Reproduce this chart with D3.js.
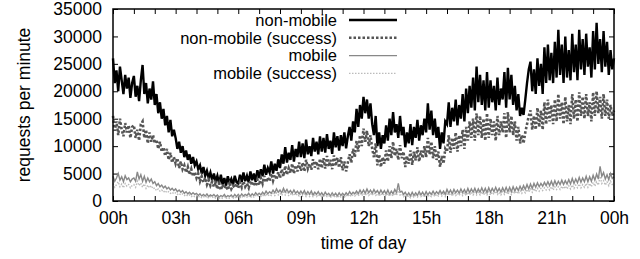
<!DOCTYPE html>
<html>
<head>
<meta charset="utf-8">
<script src="https://cdn.jsdelivr.net/npm/d3@7"></script>
<style>
  body { margin: 0; background: #fff; }
  svg { display: block; font-family: "Liberation Sans", Arial, sans-serif; }
  .axis path { display: none; }
  .axis line { stroke: #000; stroke-width: 1; }
  .axis text { font-size: 17.5px; fill: #000; font-family: "Liberation Sans", Arial, sans-serif; }
</style>
</head>
<body>
<div id="chart"></div>
<script>
// requests per minute, in thousands, one value every 5 minutes, 00:00 .. 24:00
const nonMobile = [
  26.0, 21.5, 23.8, 20.0, 24.5, 22.0, 19.5, 23.0, 20.5, 22.5, 18.8, 21.5,
  22.8, 19.0, 21.0, 18.2, 22.0, 24.8, 19.5, 21.5, 17.8, 20.5, 18.5, 21.8,
  17.5, 19.5, 16.0, 18.0, 15.0, 16.8, 13.8, 15.5, 12.5, 14.8, 11.8, 13.0,
  11.5, 9.5, 10.8, 8.8, 10.0, 8.0, 9.2, 7.5, 8.5, 6.8, 8.0, 6.5,
  7.2, 5.8, 6.5, 5.0, 6.2, 4.6, 5.5, 4.2, 5.2, 3.8, 5.0, 3.6,
  4.6, 3.2, 4.8, 3.0, 4.2, 2.8, 4.5, 3.3, 4.0, 2.9, 4.6, 3.4,
  3.2, 4.8, 3.5, 5.2, 3.6, 4.6, 3.4, 5.4, 3.8, 5.0, 3.5, 5.6,
  4.2, 5.8, 4.5, 6.6, 4.8, 6.0, 5.2, 7.2, 5.0, 6.8, 5.5, 7.6,
  6.0, 8.5, 6.8, 9.8, 7.0, 8.8, 7.5, 10.2, 7.2, 9.5, 8.0, 10.8,
  8.0, 10.5, 7.8, 11.2, 8.5, 10.0, 8.2, 11.5, 9.0, 10.8, 8.5, 11.8,
  9.0, 11.5, 8.8, 12.2, 9.5, 11.0, 8.6, 12.5, 9.8, 11.8, 9.2, 12.0,
  10.0, 12.5, 9.6, 11.8, 13.5, 11.0, 14.5, 12.5, 16.8, 13.5, 17.5, 15.0,
  19.0, 16.0, 18.5, 15.0, 17.8, 14.0, 12.0, 15.5, 10.0, 12.5, 9.5, 12.0,
  10.5, 13.8, 11.0, 15.0, 12.0, 16.2, 12.5, 14.0, 11.5, 15.5, 12.0, 13.5,
  9.8, 12.5, 10.5, 14.0, 10.2, 13.5, 11.5, 14.8, 11.0, 13.8, 12.0, 15.0,
  12.5, 17.8, 13.0, 16.5, 12.0, 15.0, 11.5, 13.5, 9.5, 12.5, 10.5, 14.5,
  14.0, 18.0, 13.5, 17.0, 14.5, 18.5, 13.8, 17.5, 15.0, 19.5, 14.5, 20.5,
  16.0, 21.0, 17.0, 22.5, 16.5, 24.5, 18.0, 23.0, 17.5, 22.0, 16.5, 23.5,
  17.0, 22.0, 18.0, 21.0, 16.5, 22.5, 17.5, 20.5, 18.5, 23.5, 17.0, 24.3,
  18.5, 23.0, 17.5, 21.0, 16.5, 19.5, 15.5, 17.0, 15.7, 18.5, 21.5, 24.0,
  25.4, 20.0, 24.0, 19.5, 26.0, 21.0, 25.0, 19.5, 28.0, 21.5, 28.5, 22.0,
  27.0, 21.5, 29.0, 22.5, 31.2, 23.0, 28.5, 21.5, 30.0, 22.5, 27.5, 22.0,
  30.5, 23.5, 28.5, 22.0, 31.2, 24.0, 29.5, 23.0, 30.5, 24.5, 28.0, 22.5,
  31.0, 24.0, 32.5, 25.0, 29.5, 23.5, 31.0, 24.5, 29.0, 23.0, 27.5, 24.0,
  26.0
]

const nonMobileSuccess = [
  15.5, 12.8, 14.5, 12.0, 15.0, 13.0, 11.8, 14.2, 12.5, 13.8, 11.5, 13.5,
  13.8, 11.5, 13.0, 11.0, 14.0, 14.5, 11.5, 13.0, 10.5, 12.5, 10.8, 12.0,
  10.5, 11.2, 9.5, 10.8, 9.0, 9.8, 8.2, 9.5, 7.5, 8.8, 7.0, 8.0,
  6.8, 7.8, 6.0, 7.2, 5.8, 6.5, 5.2, 6.2, 4.8, 5.8, 4.5, 5.3,
  4.2, 5.0, 3.6, 4.5, 3.4, 4.2, 3.0, 3.8, 2.8, 3.5, 2.6, 3.3,
  2.2, 3.2, 2.0, 3.0, 2.3, 2.8, 2.0, 3.1, 2.2, 2.8, 2.4, 3.2,
  2.3, 3.4, 2.5, 3.6, 2.6, 3.2, 2.4, 3.7, 2.8, 3.5, 2.7, 3.9,
  2.9, 4.2, 3.2, 4.6, 3.4, 4.3, 3.6, 5.0, 3.7, 4.8, 3.9, 5.3,
  4.2, 5.8, 4.5, 6.4, 4.8, 6.0, 5.1, 6.8, 5.0, 6.5, 5.4, 7.0,
  5.5, 7.0, 5.4, 7.5, 5.9, 6.8, 5.7, 7.6, 6.1, 7.2, 5.8, 7.7,
  6.0, 7.8, 5.9, 8.2, 6.3, 7.5, 5.8, 8.3, 6.4, 7.9, 6.1, 8.0,
  5.6, 7.2, 5.4, 7.0, 8.5, 7.0, 9.5, 8.0, 11.0, 9.0, 12.0, 10.0,
  13.2, 10.8, 12.8, 10.0, 12.0, 9.5, 8.0, 10.5, 6.5, 8.5, 6.2, 8.0,
  6.8, 9.2, 7.2, 10.0, 7.8, 10.8, 8.2, 9.5, 7.5, 10.2, 7.8, 9.0,
  6.2, 8.2, 6.8, 9.2, 6.6, 9.0, 7.4, 9.8, 7.2, 9.2, 7.8, 10.0,
  8.0, 11.5, 8.5, 10.8, 7.8, 10.0, 7.5, 9.0, 6.2, 8.2, 6.8, 9.5,
  9.0, 12.0, 8.8, 11.5, 9.5, 12.5, 9.0, 12.0, 10.0, 13.0, 9.5, 13.5,
  11.0, 14.5, 11.5, 15.0, 11.0, 16.0, 12.0, 15.5, 11.5, 15.0, 11.0, 16.0,
  11.5, 15.0, 12.0, 14.5, 11.0, 15.5, 12.0, 14.5, 12.5, 16.0, 11.5, 16.2,
  12.5, 15.5, 12.0, 14.5, 11.0, 13.5, 10.5, 12.0, 10.5, 12.5, 14.0, 15.5,
  16.5, 13.0, 15.5, 13.0, 17.0, 13.5, 16.5, 13.0, 18.0, 14.0, 18.5, 14.5,
  17.5, 14.0, 18.5, 14.5, 19.5, 15.0, 18.0, 14.0, 19.0, 14.5, 17.5, 14.0,
  19.5, 15.0, 18.5, 14.5, 19.8, 15.5, 19.0, 15.0, 19.5, 15.5, 18.0, 14.5,
  19.8, 15.5, 20.0, 16.0, 19.0, 15.0, 19.5, 15.5, 18.5, 15.0, 17.5, 15.5,
  16.5
]

const mobile = [
  4.5, 3.6, 4.2, 5.0, 3.8, 4.4, 3.5, 4.6, 3.9, 4.2, 3.5, 4.0,
  4.2, 3.6, 5.3, 4.0, 4.8, 3.6, 4.5, 3.4, 4.2, 3.5, 4.0, 3.2,
  3.5, 2.8, 3.2, 2.6, 2.9, 2.4, 2.7, 2.2, 2.5, 2.0, 2.3, 1.9,
  2.2, 1.7, 2.0, 1.6, 1.9, 1.4, 1.7, 1.3, 1.6, 1.2, 1.5, 1.2,
  1.4, 1.0, 1.3, 0.9, 1.2, 0.9, 1.3, 0.8, 1.1, 0.9, 1.2, 0.8,
  1.1, 0.7, 1.0, 0.8, 1.2, 0.7, 1.0, 0.8, 1.1, 0.7, 1.2, 0.8,
  1.2, 0.8, 1.3, 0.9, 1.2, 1.0, 1.4, 0.9, 1.3, 1.0, 1.5, 1.1,
  1.4, 1.1, 1.6, 1.2, 1.8, 1.3, 1.7, 1.4, 2.0, 1.5, 2.2, 1.6,
  2.0, 1.5, 2.3, 1.6, 2.1, 1.5, 1.9, 1.4, 2.0, 1.4, 1.8, 1.3,
  1.8, 1.3, 1.9, 1.2, 1.7, 1.2, 1.8, 1.1, 1.6, 1.2, 1.7, 1.1,
  1.5, 1.0, 1.6, 1.1, 1.4, 0.9, 1.5, 1.0, 1.4, 0.9, 1.5, 1.0,
  1.4, 1.0, 1.5, 1.1, 1.7, 1.2, 1.6, 1.3, 1.8, 1.3, 2.0, 1.4,
  2.0, 1.4, 2.2, 1.5, 2.0, 1.4, 2.1, 1.5, 1.9, 1.3, 2.0, 1.4,
  1.9, 1.3, 2.0, 1.2, 1.8, 1.3, 2.1, 1.5, 3.2, 1.6, 1.8, 1.2,
  1.6, 1.0, 1.5, 0.9, 1.6, 1.0, 1.5, 1.0, 1.7, 1.1, 1.6, 1.0,
  1.7, 1.1, 1.6, 1.2, 1.8, 1.2, 1.7, 1.3, 1.9, 1.3, 1.8, 1.2,
  2.1, 1.4, 2.0, 1.3, 2.1, 1.5, 2.0, 1.4, 2.2, 1.5, 2.1, 1.4,
  2.3, 1.5, 2.2, 1.6, 2.3, 1.5, 2.2, 1.6, 2.4, 1.6, 2.3, 1.5,
  2.4, 1.6, 2.3, 1.7, 2.5, 1.7, 2.3, 1.6, 2.4, 1.7, 2.5, 1.7,
  2.5, 1.7, 2.6, 1.8, 2.5, 1.9, 2.7, 2.0, 2.8, 2.1, 3.0, 2.2,
  3.1, 2.3, 3.2, 2.5, 3.3, 2.6, 3.2, 2.7, 3.4, 2.8, 3.5, 2.8,
  3.6, 2.8, 3.7, 2.9, 3.6, 3.0, 3.8, 3.0, 3.7, 3.1, 3.9, 3.1,
  4.1, 3.2, 4.0, 3.3, 4.3, 3.4, 4.2, 3.5, 4.5, 3.5, 4.4, 3.6,
  4.7, 3.8, 4.9, 4.0, 6.3, 4.5, 5.2, 4.0, 4.8, 3.9, 5.0, 4.1,
  4.4
]

const mobileSuccess = [
  3.2, 2.5, 3.0, 3.5, 2.6, 3.1, 2.4, 3.2, 2.7, 3.0, 2.4, 2.8,
  3.0, 2.5, 3.6, 2.8, 3.3, 2.5, 3.1, 2.3, 2.9, 2.4, 2.8, 2.2,
  2.4, 1.9, 2.2, 1.8, 2.0, 1.6, 1.9, 1.5, 1.7, 1.4, 1.6, 1.3,
  1.5, 1.2, 1.4, 1.1, 1.3, 1.0, 1.2, 0.9, 1.1, 0.8, 1.0, 0.8,
  1.0, 0.7, 0.9, 0.6, 0.8, 0.6, 0.9, 0.5, 0.8, 0.6, 0.8, 0.5,
  0.8, 0.5, 0.7, 0.5, 0.8, 0.5, 0.7, 0.5, 0.8, 0.5, 0.8, 0.5,
  0.8, 0.6, 0.9, 0.6, 0.9, 0.7, 1.0, 0.6, 0.9, 0.7, 1.0, 0.8,
  1.0, 0.8, 1.1, 0.8, 1.3, 0.9, 1.2, 1.0, 1.4, 1.0, 1.5, 1.1,
  1.4, 1.0, 1.6, 1.1, 1.5, 1.0, 1.3, 1.0, 1.4, 1.0, 1.3, 0.9,
  1.3, 0.9, 1.3, 0.8, 1.2, 0.8, 1.3, 0.8, 1.1, 0.8, 1.2, 0.8,
  1.1, 0.7, 1.1, 0.8, 1.0, 0.6, 1.1, 0.7, 1.0, 0.6, 1.0, 0.7,
  1.0, 0.7, 1.1, 0.8, 1.2, 0.8, 1.1, 0.9, 1.3, 0.9, 1.4, 1.0,
  1.4, 1.0, 1.5, 1.0, 1.4, 1.0, 1.5, 1.0, 1.3, 0.9, 1.4, 1.0,
  1.3, 0.9, 1.4, 0.9, 1.3, 0.9, 1.5, 1.0, 2.2, 1.1, 1.3, 0.8,
  1.1, 0.7, 1.0, 0.6, 1.1, 0.7, 1.0, 0.7, 1.2, 0.8, 1.1, 0.7,
  1.2, 0.8, 1.1, 0.8, 1.3, 0.8, 1.2, 0.9, 1.3, 0.9, 1.3, 0.8,
  1.5, 1.0, 1.4, 0.9, 1.5, 1.0, 1.4, 1.0, 1.6, 1.0, 1.5, 1.0,
  1.6, 1.1, 1.6, 1.1, 1.6, 1.1, 1.6, 1.1, 1.7, 1.1, 1.6, 1.1,
  1.7, 1.1, 1.6, 1.2, 1.8, 1.2, 1.6, 1.1, 1.7, 1.2, 1.8, 1.2,
  1.8, 1.2, 1.8, 1.3, 1.8, 1.3, 1.9, 1.4, 2.0, 1.5, 2.1, 1.6,
  2.2, 1.6, 2.3, 1.7, 2.3, 1.8, 2.3, 1.9, 2.4, 2.0, 2.5, 2.0,
  2.6, 2.0, 2.6, 2.1, 2.6, 2.1, 2.7, 2.2, 2.7, 2.2, 2.8, 2.2,
  2.9, 2.3, 2.9, 2.4, 3.1, 2.4, 3.0, 2.5, 3.2, 2.5, 3.2, 2.6,
  3.4, 2.7, 3.5, 2.9, 4.5, 3.2, 3.7, 2.9, 3.5, 2.8, 3.6, 3.0,
  3.2
]

const seriesNames = ['non-mobile', 'non-mobile (success)', 'mobile', 'mobile (success)']
const xTickLabels = ['00h', '03h', '06h', '09h', '12h', '15h', '18h', '21h', '00h']
const yTicks = [0, 5000, 10000, 15000, 20000, 25000, 30000, 35000]
const stepMinutes = 5

const margin = { top: 9, right: 26, bottom: 58, left: 113 }
const width = 640 - margin.left - margin.right
const height = 259 - margin.top - margin.bottom

const svg = d3.select('#chart')
  .append('svg')
  .attr('width', 640)
  .attr('height', 259)

const g = svg.append('g')
  .attr('transform', 'translate(' + margin.left + ',' + margin.top + ')')

const x = d3.scaleLinear().domain([0, 24 * 60]).range([0, width])
const y = d3.scaleLinear().domain([0, 35000]).range([height, 0])

const hourTicks = d3.range(0, 24 * 60 + 1, 60)

// axes: ticks point inwards, like gnuplot
g.append('g')
  .attr('class', 'axis x-axis')
  .attr('transform', 'translate(0,' + height + ')')
  .call(d3.axisBottom(x).tickValues(hourTicks).tickSize(-5).tickPadding(11)
    .tickFormat(d => d % 180 === 0 ? xTickLabels[d / 180] : ''))

g.append('g')
  .attr('class', 'axis')
  .call(d3.axisTop(x).tickValues(hourTicks).tickSize(-5).tickFormat(''))

g.append('g')
  .attr('class', 'axis y-axis')
  .call(d3.axisLeft(y).tickValues(yTicks).tickSize(-5).tickPadding(11).tickFormat(d3.format('d')))

g.append('g')
  .attr('class', 'axis')
  .attr('transform', 'translate(' + width + ',0)')
  .call(d3.axisRight(y).tickValues(yTicks).tickSize(-5).tickFormat(''))

const styles = [
  { color: '#000', width: 2.4, dash: null },
  { color: '#555', width: 2.6, dash: '2.5,2' },
  { color: '#888', width: 1.4, dash: null },
  { color: '#bbb', width: 1.4, dash: '1.5,1.5' }
]

const line = d3.line()
  .x((d, i) => x(i * stepMinutes))
  .y(d => y(d * 1000))

const allSeries = [nonMobile, nonMobileSuccess, mobile, mobileSuccess]

allSeries.forEach((values, i) => {
  g.append('path')
    .datum(values)
    .attr('fill', 'none')
    .attr('stroke', styles[i].color)
    .attr('stroke-width', styles[i].width)
    .attr('stroke-dasharray', styles[i].dash)
    .attr('d', line)
})

// frame
g.append('rect')
  .attr('width', width)
  .attr('height', height)
  .attr('fill', 'none')
  .attr('stroke', '#000')
  .attr('stroke-width', 1.5)

// legend
const legend = g.append('g').attr('transform', 'translate(224,11)')
seriesNames.forEach((name, i) => {
  const row = legend.append('g').attr('transform', 'translate(0,' + i * 17.8 + ')')
  row.append('text')
    .attr('text-anchor', 'end')
    .attr('dy', '0.35em')
    .style('font-size', '16.5px')
    .text(name)
  row.append('line')
    .attr('x1', 12).attr('x2', 60)
    .attr('stroke', styles[i].color)
    .attr('stroke-width', i < 2 ? 2.4 : 1.4)
    .attr('stroke-dasharray', styles[i].dash)
})

svg.append('text')
  .attr('x', margin.left + width / 2)
  .attr('y', 249)
  .attr('text-anchor', 'middle')
  .style('font-size', '17.5px')
  .text('time of day')

svg.append('text')
  .attr('transform', 'translate(30,' + (margin.top + height / 2) + ') rotate(-90)')
  .attr('text-anchor', 'middle')
  .style('font-size', '17.5px')
  .text('requests per minute')
</script>
</body>
</html>
